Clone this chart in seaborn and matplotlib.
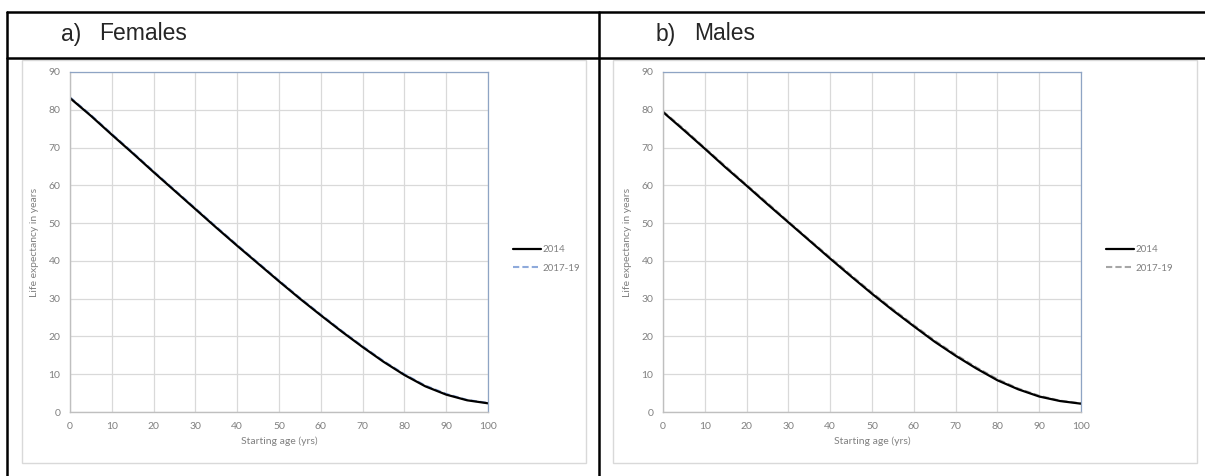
import pandas as pd
import matplotlib.pyplot as plt
import seaborn as sns
from matplotlib.lines import Line2D
from matplotlib.patches import Rectangle

ages = [0, 5, 10, 15, 20, 25, 30, 35, 40, 45, 50, 55, 60, 65, 70, 75, 80, 85, 90, 95, 100]

females_2014 = [83.1, 78.4, 73.4, 68.5, 63.5, 58.6, 53.7, 48.8, 44.0, 39.3, 34.6,
                30.0, 25.6, 21.3, 17.2, 13.3, 9.8, 6.8, 4.6, 3.1, 2.3]
females_2017 = [83.3, 78.6, 73.6, 68.7, 63.7, 58.8, 53.9, 49.0, 44.2, 39.5, 34.8,
                30.2, 25.8, 21.5, 17.4, 13.5, 10.0, 7.0, 4.8, 3.2, 2.4]
males_2014 = [79.4, 74.6, 69.7, 64.7, 59.9, 55.0, 50.2, 45.4, 40.6, 35.9, 31.3,
              26.9, 22.7, 18.6, 14.9, 11.5, 8.4, 6.0, 4.1, 2.9, 2.2]
males_2017 = [79.6, 74.9, 69.9, 65.0, 60.1, 55.3, 50.4, 45.6, 40.9, 36.2, 31.6,
              27.2, 23.0, 18.9, 15.2, 11.8, 8.7, 6.2, 4.3, 3.0, 2.3]

series_labels = ['2014', '2017-19']
panel_letters = ['a)', 'b)']
panel_titles = ['Females', 'Males']
x_ticks = [0, 10, 20, 30, 40, 50, 60, 70, 80, 90, 100]
y_ticks = [0, 10, 20, 30, 40, 50, 60, 70, 80, 90]

sns.set_style("white")
plt.rcParams['font.family'] = ['Lato', 'DejaVu Sans']

W, H = 1205, 476
fig = plt.figure(figsize=(W / 100, H / 100), dpi=100)


def fx(px):
    return px / W


def fy(py):
    return 1 - py / H


grey_txt = '#808080'
grid_col = '#d9d9d9'
frame_col = '#8ea4c4'


def panel(left_px, box, y2014, y2017, dash_col, letter, title, title_x):
    # chart area border
    fig.add_artist(Rectangle((fx(box[0]), fy(box[3])), fx(box[2] - box[0]),
                             (box[3] - box[1]) / H, transform=fig.transFigure,
                             fill=False, edgecolor='#d9d9d9', lw=1))
    ax = fig.add_axes([fx(left_px), fy(412), fx(418), 340 / H])
    df = pd.DataFrame({'age': ages, series_labels[0]: y2014, series_labels[1]: y2017})
    sns.lineplot(data=df, x='age', y=series_labels[1], ax=ax, color=dash_col,
                 lw=1.5, linestyle=(0, (3, 1.5)), label=series_labels[1])
    sns.lineplot(data=df, x='age', y=series_labels[0], ax=ax, color='black',
                 lw=1.6, label=series_labels[0])
    ax.set_xlim(0, 100)
    ax.set_ylim(0, 90)
    ax.set_xticks(x_ticks)
    ax.set_yticks(y_ticks)
    ax.grid(True, color=grid_col, lw=0.9)
    ax.set_axisbelow(True)
    for s in ['left', 'bottom']:
        ax.spines[s].set_color('#bfbfbf')
        ax.spines[s].set_linewidth(1.0)
    for s in ['top', 'right']:
        ax.spines[s].set_color(frame_col)
        ax.spines[s].set_linewidth(0.9)
    ax.tick_params(axis='both', colors='#bfbfbf', labelcolor=grey_txt,
                   labelsize=7.5, length=3, width=0.8, direction='out', pad=4)
    ax.set_xlabel('Starting age (yrs)', fontsize=7.5, color=grey_txt, labelpad=4)
    ax.set_ylabel('Life expectancy in years', fontsize=7.5, color=grey_txt, labelpad=7)
    h, l = ax.get_legend_handles_labels()
    order = [1, 0]
    leg = ax.legend([h[i] for i in order], [l[i] for i in order], frameon=False,
                    loc='center left', bbox_to_anchor=(1.04, 0.45), fontsize=7,
                    handlelength=2.8, handletextpad=0.2, labelspacing=1.0)
    for t in leg.get_texts():
        t.set_color(grey_txt)
    fig.text(fx(title_x), fy(34), letter, fontsize=16.5, family='Liberation Sans',
             va='center', ha='left')
    fig.text(fx(title_x + 38), fy(34), title, fontsize=16.5, family='Liberation Sans',
             va='center', ha='left')
    return ax


panel(70, (22, 60, 586, 463), females_2014, females_2017, '#8eaadb',
      panel_letters[0], panel_titles[0], 61)
panel(663, (613, 60, 1197, 463), males_2014, males_2017, '#a6a6a6',
      panel_letters[1], panel_titles[1], 656)

# table borders
lw = 1.8
fig.add_artist(Line2D([fx(7), 1], [fy(12), fy(12)], color='black', lw=lw))
fig.add_artist(Line2D([fx(7), 1], [fy(58), fy(58)], color='black', lw=lw))
fig.add_artist(Line2D([fx(7), fx(7)], [fy(12), 0], color='black', lw=lw))
fig.add_artist(Line2D([fx(599), fx(599)], [fy(12), 0], color='black', lw=lw))

plt.savefig('out.png', dpi=100)
plt.close()
